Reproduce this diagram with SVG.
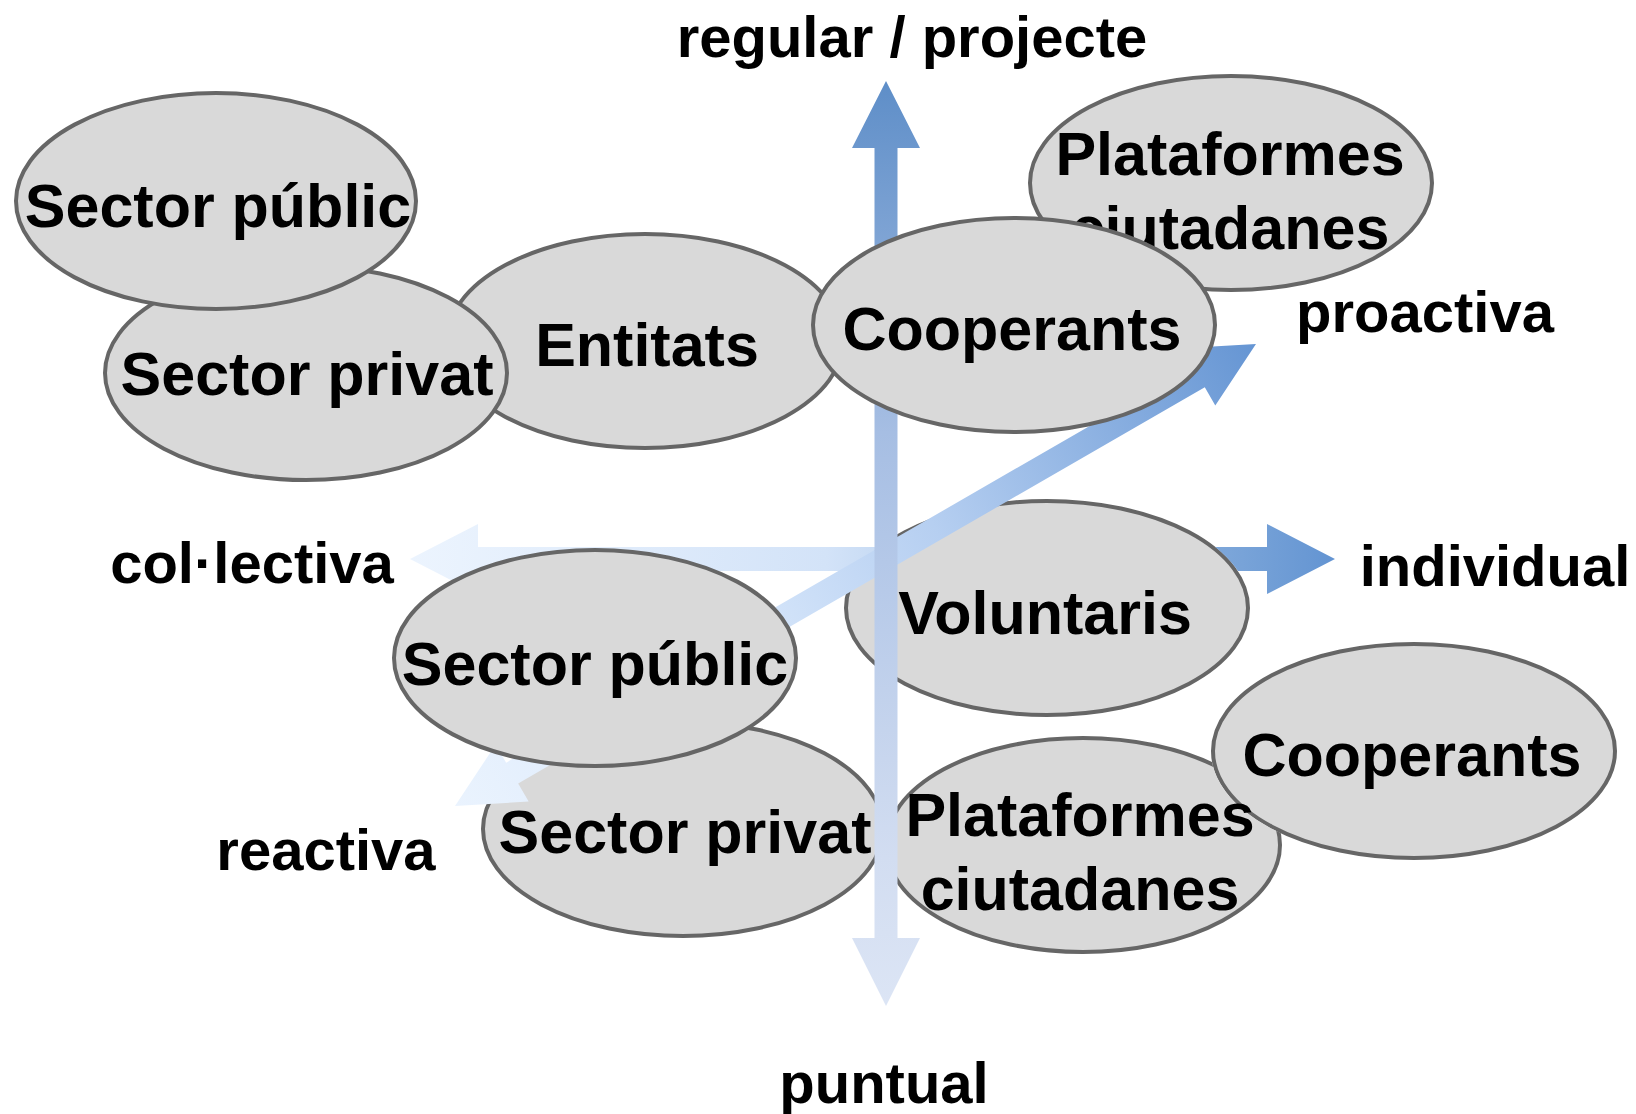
<svg xmlns="http://www.w3.org/2000/svg" width="1636" height="1114" viewBox="0 0 1636 1114">
<style>
  .node ellipse { fill: #d9d9d9; stroke: #666666; stroke-width: 4; }
  .node text { font-family: "Liberation Sans", Arial, sans-serif; font-weight: bold; font-size: 61px; fill: #000; text-anchor: middle; }
  .label { font-family: "Liberation Sans", Arial, sans-serif; font-weight: bold; font-size: 58px; fill: #000; text-anchor: middle; }
</style>
<defs>
  <linearGradient id="gV" gradientUnits="userSpaceOnUse" x1="0" y1="81" x2="0" y2="1006">
    <stop offset="0" stop-color="#5e8ec8"/>
    <stop offset="0.38" stop-color="#a6bee3"/>
    <stop offset="0.52" stop-color="#b4c8e8"/>
    <stop offset="0.84" stop-color="#d2ddf1"/>
    <stop offset="1" stop-color="#dce5f5"/>
  </linearGradient>
  <linearGradient id="gH" gradientUnits="userSpaceOnUse" x1="410" y1="0" x2="1335" y2="0">
    <stop offset="0" stop-color="#ecf4fe"/>
    <stop offset="0.45" stop-color="#d3e3f8"/>
    <stop offset="0.9" stop-color="#78a3d8"/>
    <stop offset="1" stop-color="#6394d2"/>
  </linearGradient>
  <linearGradient id="gD" gradientUnits="userSpaceOnUse" x1="0" y1="0" x2="924.7" y2="0">
    <stop offset="0" stop-color="#eaf3fe"/>
    <stop offset="0.4" stop-color="#d2e3f9"/>
    <stop offset="0.6" stop-color="#b6cff1"/>
    <stop offset="1" stop-color="#6595d3"/>
  </linearGradient>
  <mask id="mVol" maskUnits="userSpaceOnUse" x="0" y="0" width="1636" height="1114">
    <rect x="0" y="0" width="1636" height="1114" fill="#fff"/>
    <ellipse cx="1047" cy="608" rx="203" ry="109" fill="#000"/>
  </mask>
  <mask id="mCoopB" maskUnits="userSpaceOnUse" x="0" y="0" width="1636" height="1114">
    <rect x="0" y="0" width="1636" height="1114" fill="#fff"/>
    <ellipse cx="1414" cy="751" rx="203" ry="109" fill="#000"/>
  </mask>
</defs>

<g id="node-voluntaris" class="node">
  <ellipse cx="1047" cy="608" rx="201" ry="107"/>
  <text x="1045" y="634">Voluntaris</text>
</g>
<g id="node-sector-privat-bottom" class="node">
  <ellipse cx="683" cy="829" rx="200" ry="107"/>
  <text x="685" y="853">Sector privat</text>
</g>
<g id="node-cooperants-bottom" class="node">
  <ellipse cx="1414" cy="751" rx="201" ry="107"/>
  <text x="1412" y="776">Cooperants</text>
</g>
<g id="node-plataformes-bottom" class="node">
  <ellipse cx="1083" cy="845" rx="197" ry="107" mask="url(#mCoopB)"/>
  <text x="1080" y="836">Plataformes</text>
  <text x="1080" y="910">ciutadanes</text>
</g>

<g id="connectors">
  <polygon id="arrow-horizontal" mask="url(#mVol)" fill="url(#gH)"
    points="410,559 478,524 478,547 1267,547 1267,524 1335,559 1267,594 1267,571 478,571 478,594"/>
  <polygon id="arrow-diagonal" fill="url(#gD)" transform="translate(455 806) rotate(-29.98)"
    points="0,0 66,-33 66,-12 858.7,-12 858.7,-33 924.7,0 858.7,33 858.7,12 66,12 66,33"/>
  <polygon id="arrow-vertical" fill="url(#gV)"
    points="886,81 920,148 897.5,148 897.5,938 920,938 886,1006 852,938 874.5,938 874.5,148 852,148"/>
</g>

<g id="node-sector-public-bottom" class="node">
  <ellipse cx="595" cy="658" rx="201" ry="108"/>
  <text x="595" y="685">Sector públic</text>
</g>
<g id="node-entitats" class="node">
  <ellipse cx="645" cy="341" rx="198" ry="107"/>
  <text x="647" y="366">Entitats</text>
</g>
<g id="node-sector-privat-top" class="node">
  <ellipse cx="306" cy="373" rx="201" ry="107"/>
  <text x="307" y="395">Sector privat</text>
</g>
<g id="node-sector-public-top" class="node">
  <ellipse cx="216" cy="201" rx="200" ry="108"/>
  <text x="218" y="227">Sector públic</text>
</g>
<g id="node-plataformes-top" class="node">
  <ellipse cx="1231" cy="183" rx="201" ry="107"/>
  <text x="1230" y="175">Plataformes</text>
  <text x="1230" y="249">ciutadanes</text>
</g>
<g id="node-cooperants-top" class="node">
  <ellipse cx="1014" cy="325" rx="201" ry="107"/>
  <text x="1012" y="350">Cooperants</text>
</g>

<g id="labels">
  <text class="label" x="912" y="57">regular / projecte</text>
  <text class="label" x="1425" y="332">proactiva</text>
  <text class="label" x="252" y="583">col·lectiva</text>
  <text class="label" x="1495" y="586">individual</text>
  <text class="label" x="326" y="870">reactiva</text>
  <text class="label" x="884" y="1103">puntual</text>
</g>
</svg>
